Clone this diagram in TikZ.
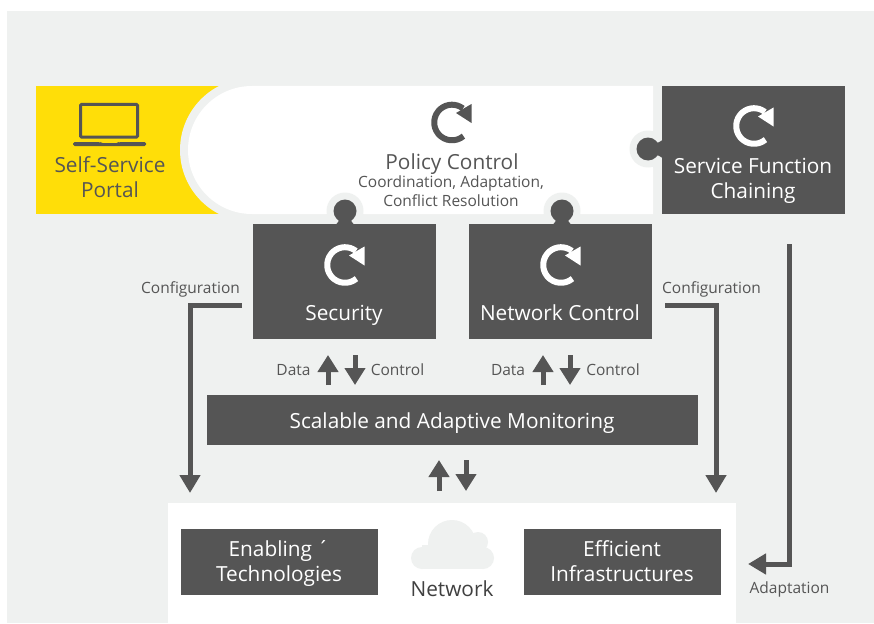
\documentclass[tikz,border=0pt]{standalone}
\usepackage{fontspec}
\setmainfont{Open Sans}
\usetikzlibrary{arrows.meta}
\definecolor{panel}{HTML}{EFF1F0}
\definecolor{ink}{HTML}{555555}
\definecolor{sun}{HTML}{FFDE08}
\newcommand{\reloadicon}[2]{%
  \draw[#2, line width=6pt] (#1) ++(50:17.8) arc[start angle=50, end angle=308, radius=17.8];
  \fill[#2] (#1) ++(19.5,-18.5) -- ++(0,19) -- ++(-15.5,-10) -- cycle;
}
\begin{document}
\begin{tikzpicture}[x=1pt, y=-1pt,
    darkbox/.style={fill=ink, inner sep=0pt, text=white},
    boxtext/.style={text=white, align=center, anchor=base, font=\fontsize{20.8}{25}\selectfont},
    inktext/.style={text=ink, align=center, anchor=base, font=\fontsize{20.8}{25}\selectfont},
    smalltext/.style={text=ink, align=center, anchor=base, font=\fontsize{15.5}{18.5}\selectfont},
    flow/.style={draw=ink, line width=5pt, -{Triangle[width=20pt, length=18pt]}},
    shortflow/.style={draw=ink, line width=5pt, -{Triangle[width=20pt, length=17pt]}}]
  \useasboundingbox (0,0) rectangle (874,623);
  \fill[panel] (7,11) rectangle (874,623);
  % policy band
  \fill[sun] (36,86) rectangle (252,214);
  \fill[panel] (252,150) circle[radius=72];
  \fill[white] (653,86) -- (252,86) arc[start angle=270, end angle=90, radius=64] -- (653,214) -- cycle;
  \fill[panel] (345,211) circle[radius=18.5] (562,211) circle[radius=18.5] (648,149) circle[radius=18.5];
  \fill[panel] (653,130) rectangle (662,168);
  \node[darkbox, minimum width=183pt, minimum height=128pt] (SFC) at (753.5,150) {};
  \node[darkbox, minimum width=183pt, minimum height=115pt] (Sec) at (344.5,281.5) {};
  \node[darkbox, minimum width=183pt, minimum height=115pt] (NC) at (560.5,281.5) {};
  \node[darkbox, minimum width=491pt, minimum height=50pt] (Mon) at (452.5,420) {};
  \fill[white] (168,503) rectangle (736,623);
  \node[darkbox, minimum width=197pt, minimum height=66pt] (En) at (279.5,562) {};
  \node[darkbox, minimum width=197pt, minimum height=66pt] (Eff) at (622.5,562) {};
  % knobs
  \foreach \k in {345,562} {
    \fill[ink] (\k,211) circle[radius=11.5];
    \fill[ink] (\k-6,218) .. controls (\k-6,221) and (\k-7,223) .. (\k-9,224.5) -- (\k+9,224.5)
      .. controls (\k+7,223) and (\k+6,221) .. (\k+6,218) -- cycle;
  }
  \fill[ink] (648,149) circle[radius=11.5];
  \fill[ink] (655,143) .. controls (658,143) and (660,142) .. (662.5,140) -- (662.5,158)
    .. controls (660,156) and (658,155) .. (655,155) -- cycle;
  % icons
  \coordinate (iconPol) at (452,122.5);
  \coordinate (iconSec) at (345,265);
  \coordinate (iconNC) at (561,265);
  \coordinate (iconSFC) at (754,126);
  \reloadicon{iconPol}{ink}
  \reloadicon{iconSec}{white}
  \reloadicon{iconNC}{white}
  \reloadicon{iconSFC}{white}
  % laptop
  \draw[ink, line width=3pt, rounded corners=1pt] (80.5,104.5) rectangle (137.5,137);
  \fill[ink, rounded corners=1.5pt] (73,142) -- (100,142) -- (101,143) -- (118,143) -- (119,142) -- (146,142) -- (146,146) -- (73,146) -- cycle;
  % cloud
  \fill[panel] (452,544) circle[radius=24] (478,542) circle[radius=10]
    (483,558) circle[radius=11] (422,558) circle[radius=11];
  \fill[panel] (422,545) rectangle (483,569);
  % texts
  \node[inktext] (Portal) at (110,197) {Self-Service\\Portal};
  \node[inktext] (Pol) at (452,169.5) {Policy Control};
  \node[smalltext] (PolSub) at (451,206) {Coordination, Adaptation,\\Conflict Resolution};
  \node[boxtext] (SFCt) at (753,198) {Service Function\\Chaining};
  \node[boxtext] (Sect) at (344,320) {Security};
  \node[boxtext] (NCt) at (560,320) {Network Control};
  \node[boxtext] (Mont) at (452,428) {Scalable and Adaptive Monitoring};
  \node[boxtext] (Ent) at (279,581) {Enabling ´\\Technologies};
  \node[boxtext] (Efft) at (622,581) {Efficient\\Infrastructures};
  \node[inktext, text=ink!75!black] (Net) at (452,596) {Network};
  \node[smalltext] (CfgL) at (190.5,293) {Configuration};
  \node[smalltext] (CfgR) at (711.5,293) {Configuration};
  \node[smalltext] (Adapt) at (789.5,593) {Adaptation};
  \node[smalltext] (DataA) at (293.5,375) {Data};
  \node[smalltext] (CtrlA) at (397.5,375) {Control};
  \node[smalltext] (DataB) at (508,375) {Data};
  \node[smalltext] (CtrlB) at (613,375) {Control};
  % connectors
  \coordinate (cfgLa) at (242,305);
  \coordinate (cfgLb) at (190,493);
  \coordinate (cfgRa) at (665,305);
  \coordinate (cfgRb) at (716,493);
  \coordinate (adaptA) at (789,244);
  \coordinate (adaptB) at (748,564);
  \draw[flow] (cfgLa) -| (cfgLb);
  \draw[flow] (cfgRa) -| (cfgRb);
  \draw[flow] (adaptA) |- (adaptB);
  \foreach \u/\d/\t/\b in {328/355/355/385, 543/570/355/385, 439/466/460/491} {
    \coordinate (upA) at (\u,\b);
    \coordinate (upB) at (\u,\t);
    \coordinate (downA) at (\d,\t);
    \coordinate (downB) at (\d,\b);
    \draw[shortflow] (upA) -- (upB);
    \draw[shortflow] (downA) -- (downB);
  }
\end{tikzpicture}
\end{document}
